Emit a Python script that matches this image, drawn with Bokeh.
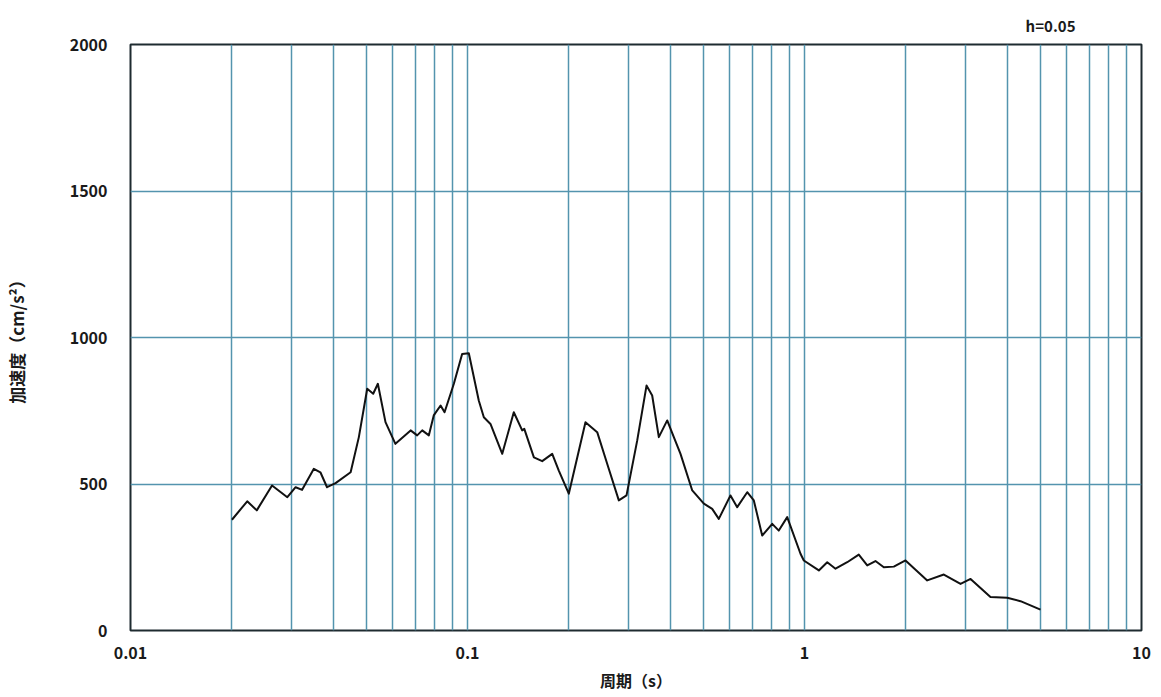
from bokeh.plotting import figure
from bokeh.models import FixedTicker, Range1d, Title, CustomJSTickFormatter
from bokeh.embed import file_html
from bokeh.resources import INLINE

# Response spectrum data (period [s], acceleration [cm/s^2])
period = [0.0200, 0.0222, 0.0237, 0.0263, 0.0292, 0.0309, 0.0323, 0.0350, 0.0366,
          0.0383, 0.0406, 0.0450, 0.0476, 0.0504, 0.0525, 0.0542, 0.0571, 0.0611,
          0.0678, 0.0709, 0.0734, 0.0768, 0.0794, 0.0832, 0.0855, 0.0911, 0.0964,
          0.1009, 0.1080, 0.1118, 0.1170, 0.1268, 0.1372, 0.1453, 0.1474, 0.1574,
          0.1666, 0.1784, 0.1866, 0.1998, 0.2239, 0.2426, 0.2597, 0.2812, 0.2964,
          0.3188, 0.3398, 0.3532, 0.3696, 0.3914, 0.4095, 0.4286, 0.4644, 0.5027,
          0.5322, 0.5568, 0.6031, 0.6314, 0.6761, 0.7073, 0.7489, 0.8022, 0.8389,
          0.8886, 0.9730, 0.9954, 1.103, 1.168, 1.236, 1.339, 1.449, 1.535, 1.624,
          1.719, 1.841, 1.994, 2.313, 2.591, 2.904, 3.110, 3.563, 3.995, 4.375, 5.015]
accel = [378, 441, 410, 495, 455, 489, 480, 552, 540,
         489, 503, 540, 660, 825, 808, 842, 711, 637,
         683, 666, 683, 666, 734, 768, 745, 842, 944,
         946, 785, 728, 705, 603, 745, 683, 688, 591,
         578, 603, 546, 467, 711, 677, 569, 444, 461,
         648, 836, 802, 660, 717, 660, 603, 478, 433,
         415, 381, 461, 421, 472, 444, 324, 364, 341,
         387, 262, 239, 205, 233, 211, 233, 259, 222, 237,
         216, 218, 239, 171, 191, 159, 176, 114, 112, 100, 71]

x_major = [0.01, 0.1, 1, 10]
x_labels = ["0.01", "0.1", "1", "10"]
y_major = [0, 500, 1000, 1500, 2000]

minor = []
for d in [0.01, 0.1, 1]:
    for m in range(2, 10):
        minor.append(round(d * m, 4))

GRID = "#5394ae"
FONT = "Noto Sans CJK JP"
TXT = "#1a1a1a"

p = figure(x_axis_type="log", output_backend="svg", toolbar_location=None,
           frame_width=1011, frame_height=586,
           min_border_left=130, min_border_right=12, min_border_top=44, min_border_bottom=59,
           x_range=Range1d(0.01, 10), y_range=Range1d(0, 2000),
           x_axis_label="周期（s）", y_axis_label="加速度（cm/s²）")

p.add_layout(Title(text="h=0.05", align="right", offset=66, text_font=FONT,
                   text_font_size="15px", text_font_style="bold", text_color=TXT,
                   standoff=18), "above")

p.line(period, accel, line_color="#111111", line_width=2, line_join="round")

p.xaxis.ticker = FixedTicker(ticks=x_major, minor_ticks=minor)
p.xaxis.formatter = CustomJSTickFormatter(args=dict(vals=x_major, labs=x_labels), code="""
    for (let i = 0; i < vals.length; i++) { if (Math.abs(tick - vals[i]) < vals[i]*1e-6) return labs[i]; }
    return "";
""")
p.yaxis.ticker = FixedTicker(ticks=y_major)

for ax in (p.xaxis, p.yaxis):
    ax.axis_line_color = None
    ax.major_tick_line_color = None
    ax.minor_tick_line_color = None
    ax.major_label_text_font = FONT
    ax.major_label_text_font_size = "16px"
    ax.major_label_text_font_style = "bold"
    ax.major_label_text_color = TXT
    ax.axis_label_text_font = FONT
    ax.axis_label_text_font_style = "bold"
    ax.axis_label_text_color = TXT

p.xaxis.axis_label_text_font_size = "16px"
p.yaxis.axis_label_text_font_size = "17px"
p.xaxis.major_label_standoff = 10
p.xaxis.axis_label_standoff = 6
p.yaxis.major_label_standoff = 17
p.yaxis.axis_label_standoff = 38

p.xgrid.ticker = FixedTicker(ticks=x_major, minor_ticks=minor)
p.xgrid.grid_line_color = GRID
p.xgrid.grid_line_width = 1.5
p.xgrid.minor_grid_line_color = GRID
p.xgrid.minor_grid_line_width = 1.5
p.ygrid.grid_line_color = GRID
p.ygrid.grid_line_width = 1.5

p.outline_line_color = "#1e2b30"
p.outline_line_width = 2
p.outline_line_alpha = 1
p.background_fill_color = "white"
p.border_fill_color = "white"

open("out.html", "w").write(file_html(p, INLINE))
